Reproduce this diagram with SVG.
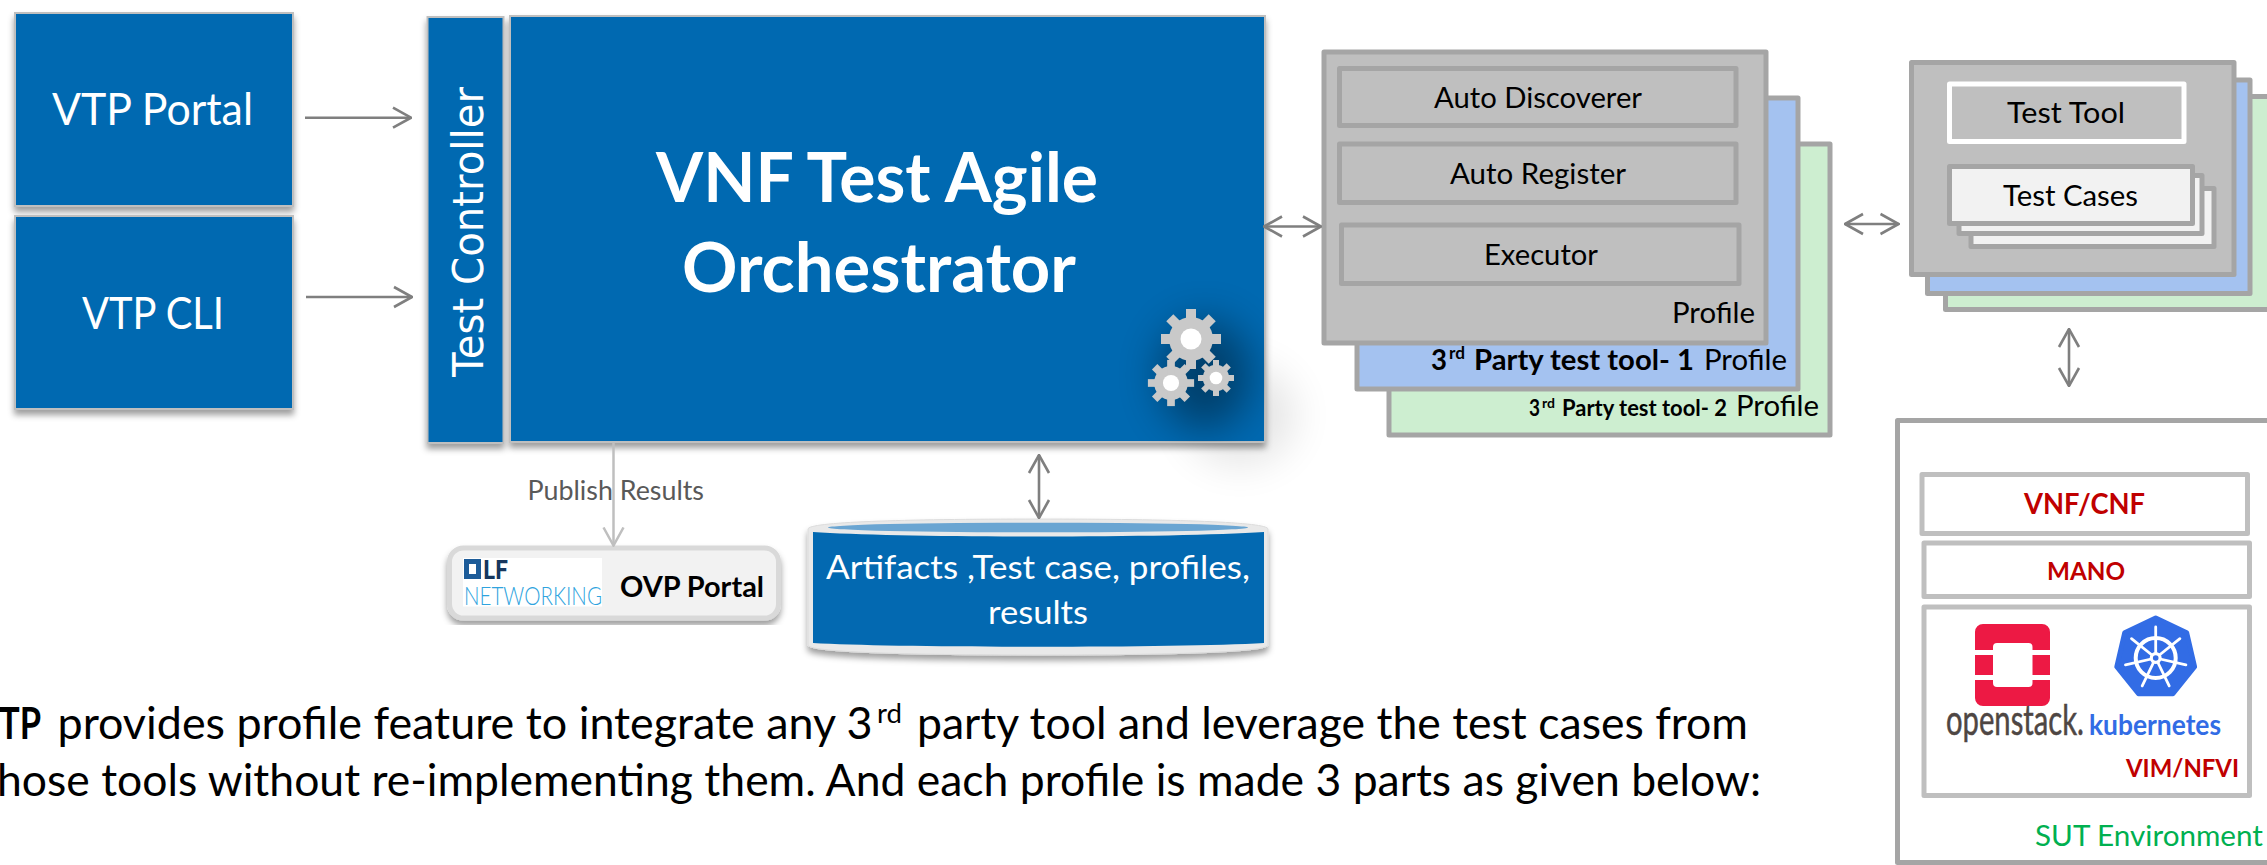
<svg xmlns="http://www.w3.org/2000/svg" width="2267" height="865" viewBox="0 0 2267 865">
<style>
text{font-family:Lato,"Liberation Sans",sans-serif;fill:#000}
.w{fill:#fff}
.b{font-weight:700}
.blue{fill:#0369b1;stroke:#bfbfbf;stroke-width:2}
.pg{fill:#bfbfbf;stroke:#a5a5a5;stroke-width:5;stroke-linejoin:round}
.pb{fill:#a4c2f0;stroke:#a5a5a5;stroke-width:5;stroke-linejoin:round}
.pn{fill:#cdeed0;stroke:#a5a5a5;stroke-width:5;stroke-linejoin:round}
.st{fill:#f2f2f2;stroke:#a5a5a5;stroke-width:5;stroke-linejoin:round}
.sut{fill:#fff;stroke:#bfbfbf;stroke-width:5;stroke-linejoin:round}
.red{fill:#c00000;font-weight:700}
.arr{fill:none;stroke:#7f7f7f;stroke-width:2.6}
.arl{fill:none;stroke:#bfbfbf;stroke-width:2.5}
</style>
<defs>
<filter id="sh" x="-10%" y="-10%" width="120%" height="120%"><feDropShadow dx="0" dy="5" stdDeviation="3" flood-color="#000" flood-opacity=".38"/></filter>
<filter id="bl" x="-80%" y="-80%" width="260%" height="260%"><feGaussianBlur stdDeviation="20"/></filter>
<clipPath id="mainclip"><rect x="510" y="16" width="755" height="426"/></clipPath>
<g id="gear">
<g fill="#c9c9c9">
<circle r="22"/>
<rect x="-5" y="-30" width="10" height="60"/>
<rect x="-5" y="-30" width="10" height="60" transform="rotate(45)"/>
<rect x="-5" y="-30" width="10" height="60" transform="rotate(90)"/>
<rect x="-5" y="-30" width="10" height="60" transform="rotate(135)"/>
</g>
<circle r="10.5" fill="#fff"/>
</g>
<marker id="open" viewBox="0 0 20 24" refX="19" refY="12" markerUnits="userSpaceOnUse" markerWidth="20" markerHeight="24" orient="auto-start-reverse"><path d="M1 2 L19 12 L1 22" fill="none" stroke="#7f7f7f" stroke-width="2.600"/></marker>
<marker id="openl" viewBox="0 0 20 24" refX="19" refY="12" markerUnits="userSpaceOnUse" markerWidth="20" markerHeight="24" orient="auto"><path d="M1 2 L19 12 L1 22" fill="none" stroke="#bfbfbf" stroke-width="2.500"/></marker>
</defs>

<g id="vtp-portal"><rect class="blue" x="15" y="13" width="278" height="193" filter="url(#sh)"/>
<text class="w" x="52" y="125" font-size="45" textLength="201" lengthAdjust="spacingAndGlyphs">VTP Portal</text></g>
<g id="vtp-cli"><rect class="blue" x="15" y="216" width="278" height="193" filter="url(#sh)"/>
<text class="w" x="82" y="329" font-size="45" textLength="142" lengthAdjust="spacingAndGlyphs">VTP CLI</text></g>
<g id="test-controller"><rect class="blue" x="427.500" y="17" width="76" height="426" filter="url(#sh)"/>
<text class="w" transform="translate(482.500 377) rotate(-90)" font-size="43" textLength="290" lengthAdjust="spacingAndGlyphs" style="font-family:'DejaVu Sans',sans-serif">Test Controller</text></g>
<ellipse cx="1240" cy="415" rx="55" ry="50" fill="#000" opacity=".1" filter="url(#bl)"/>
<g id="orchestrator"><rect class="blue" x="510" y="16" width="755" height="426" filter="url(#sh)"/>
<g clip-path="url(#mainclip)"><ellipse cx="1205" cy="375" rx="46" ry="55" fill="#000" opacity=".38" filter="url(#bl)"/></g>
<text class="w b" x="656" y="202" font-size="68" textLength="442" lengthAdjust="spacingAndGlyphs">VNF Test Agile</text>
<text class="w b" x="682" y="292" font-size="68" textLength="394" lengthAdjust="spacingAndGlyphs">Orchestrator</text>
<use href="#gear" transform="translate(1191 339)"/>
<use href="#gear" transform="translate(1171 383) scale(.77)"/>
<use href="#gear" transform="translate(1216 378) scale(.6)"/></g>

<g id="profile-2"><rect class="pn" x="1389" y="144" width="441" height="291"/>
<text class="b" x="1529" y="416" font-size="23" textLength="11" lengthAdjust="spacingAndGlyphs">3</text>
<text class="b" x="1542" y="408" font-size="14" textLength="13" lengthAdjust="spacingAndGlyphs">rd</text>
<text class="b" x="1562" y="416" font-size="23" textLength="165" lengthAdjust="spacingAndGlyphs">Party test tool- 2</text>
<text x="1736" y="416" font-size="29" textLength="83" lengthAdjust="spacingAndGlyphs">Profile</text></g>
<g id="profile-1"><rect class="pb" x="1357" y="98" width="441" height="291"/>
<text class="b" x="1431" y="370" font-size="29" textLength="16" lengthAdjust="spacingAndGlyphs">3</text>
<text class="b" x="1449" y="359" font-size="17" textLength="16" lengthAdjust="spacingAndGlyphs">rd</text>
<text class="b" x="1474" y="370" font-size="29" textLength="220" lengthAdjust="spacingAndGlyphs">Party test tool- 1</text>
<text x="1704" y="370" font-size="29" textLength="83" lengthAdjust="spacingAndGlyphs">Profile</text></g>
<g id="profile"><rect class="pg" x="1324" y="52" width="442" height="291"/>
<text x="1672" y="323" font-size="29" textLength="83" lengthAdjust="spacingAndGlyphs">Profile</text></g>
<g id="auto-discoverer"><rect class="pg" x="1339.500" y="68.500" width="396.500" height="57"/>
<text x="1434" y="108" font-size="29" textLength="208" lengthAdjust="spacingAndGlyphs">Auto Discoverer</text></g>
<g id="auto-register"><rect class="pg" x="1339.500" y="144" width="396.500" height="58.500"/>
<text x="1450" y="184" font-size="29" textLength="176" lengthAdjust="spacingAndGlyphs">Auto Register</text></g>
<g id="executor"><rect class="pg" x="1341.500" y="225" width="397.500" height="58.500"/>
<text x="1484" y="265" font-size="29" textLength="114" lengthAdjust="spacingAndGlyphs">Executor</text></g>

<g id="tool-3"><rect class="pn" x="1945.500" y="96.500" width="330" height="213"/></g>
<g id="tool-2"><rect class="pb" x="1927.500" y="80" width="322.500" height="213.500"/></g>
<g id="tool-1"><rect class="pg" x="1911.500" y="62.500" width="322.500" height="212"/></g>
<g id="test-tool"><rect x="1949.500" y="84" width="234.500" height="57.500" fill="#bfbfbf" stroke="#fff" stroke-width="5" stroke-linejoin="round"/>
<text x="2007" y="123" font-size="29" textLength="118" lengthAdjust="spacingAndGlyphs">Test Tool</text></g>
<g id="test-cases"><rect class="st" x="1971" y="188.500" width="243" height="58"/>
<rect class="st" x="1959" y="175.500" width="243" height="58"/>
<rect class="st" x="1949.500" y="166.500" width="243" height="57"/>
<text x="2003" y="206" font-size="29" textLength="135" lengthAdjust="spacingAndGlyphs">Test Cases</text></g>

<g id="sut"><rect x="1897.500" y="420.500" width="380" height="442" fill="#fff" stroke="#a5a5a5" stroke-width="5" stroke-linejoin="round"/>
<text x="2035" y="846" font-size="29" textLength="228" lengthAdjust="spacingAndGlyphs" style="fill:#00b050">SUT Environment</text></g>
<g id="vnf-cnf"><rect class="sut" x="1922" y="474.500" width="325.500" height="59"/>
<text class="red" x="2024" y="514" font-size="29" textLength="121" lengthAdjust="spacingAndGlyphs">VNF/CNF</text></g>
<g id="mano"><rect class="sut" x="1924" y="543" width="325.500" height="53.500"/>
<text class="red" x="2047" y="580" font-size="25" textLength="78" lengthAdjust="spacingAndGlyphs">MANO</text></g>
<g id="vim-nfvi"><rect class="sut" x="1924" y="607" width="325.500" height="188.500"/>
<path d="M1983 624H2042a8 8 0 0 1 8 8V650H2032.500V647a4 4 0 0 0-4-4H1997a4 4 0 0 0-4 4V650H1975V632a8 8 0 0 1 8-8ZM1975 655H1993V675H1975ZM2032.500 655H2050V675H2032.500ZM1975 680H1993V683a4 4 0 0 0 4 4H2028.500a4 4 0 0 0 4-4V680H2050V698a8 8 0 0 1-8 8H1983a8 8 0 0 1-8-8Z" fill="#ed1944"/>
<text x="1946" y="735" font-size="42" textLength="138" lengthAdjust="spacingAndGlyphs" style="fill:#4e4643;stroke:#4e4643;stroke-width:.5">openstack.</text>
<path d="M2155.700 618L2186.700 632.800L2194.600 666.800L2172.900 693.800L2138.500 693.800L2116.800 666.800L2124.700 632.800Z" fill="#326ce5" stroke="#326ce5" stroke-width="5" stroke-linejoin="round"/>
<circle cx="2155.700" cy="658" r="20" fill="none" stroke="#fff" stroke-width="4"/>
<path d="M2155.700 658V627M2155.700 658L2179.900 638.700M2155.700 658L2185.900 664.900M2155.700 658L2169.200 685.900M2155.700 658L2142.200 685.900M2155.700 658L2125.500 664.900M2155.700 658L2131.500 638.700" stroke="#fff" stroke-width="2.800" stroke-linecap="round" fill="none"/>
<circle cx="2155.700" cy="658" r="6" fill="#fff"/><circle cx="2155.700" cy="658" r="2.800" fill="#326ce5"/>
<text class="b" x="2089" y="735" font-size="29" textLength="132" lengthAdjust="spacingAndGlyphs" style="fill:#326ce5">kubernetes</text>
<text class="red" x="2126" y="777" font-size="25" textLength="113" lengthAdjust="spacingAndGlyphs">VIM/NFVI</text></g>

<g id="ovp-portal"><rect x="449.500" y="548" width="329" height="70" rx="14" fill="#f2f2f2" stroke="#d9d9d9" stroke-width="5" filter="url(#sh)"/>
<rect x="463" y="558" width="139" height="48.500" fill="#fff"/>
<path d="M464 559H481V579H464ZM469 564V574H476V564Z" fill="#1d5c99" fill-rule="evenodd"/>
<text x="483" y="578.500" font-size="27" font-weight="900" textLength="25" lengthAdjust="spacingAndGlyphs" style="fill:#17375e">LF</text>
<text x="464" y="604.500" font-size="26" font-weight="300" textLength="138" lengthAdjust="spacingAndGlyphs" style="fill:#2fa3de">NETWORKING</text>
<text class="b" x="620" y="597" font-size="28" textLength="144" lengthAdjust="spacingAndGlyphs">OVP Portal</text></g>

<g id="artifacts"><path d="M808 529C808 522 900 519 1038 519C1176 519 1268 522 1268 529V645C1268 652 1176 655 1038 655C900 655 808 652 808 645Z" fill="#e9e9e9" stroke="#dcdcdc" stroke-width="1" filter="url(#sh)"/>
<path d="M813 532C900 538 1176 538 1264 532V643C1176 648 900 648 813 643Z" fill="#0369b1"/>
<ellipse cx="1038" cy="527.500" rx="210" ry="4.800" fill="#6aa5d2"/>
<text class="w" x="826" y="579" font-size="33" textLength="424" lengthAdjust="spacingAndGlyphs">Artifacts ,Test case, profiles,</text>
<text class="w" x="988" y="624" font-size="33" textLength="100" lengthAdjust="spacingAndGlyphs">results</text></g>

<g id="connectors">
<path class="arr" d="M305 117.700H411" marker-end="url(#open)"/>
<path class="arr" d="M306 297H412" marker-end="url(#open)"/>
<path class="arr" d="M1264 226.500H1321" marker-start="url(#open)" marker-end="url(#open)"/>
<path class="arr" d="M1845 224H1898.500" marker-start="url(#open)" marker-end="url(#open)"/>
<path class="arr" d="M2069 329V386" marker-start="url(#open)" marker-end="url(#open)"/>
<path class="arr" d="M1039 455V518" marker-start="url(#open)" marker-end="url(#open)"/>
<path class="arl" d="M613.500 442V545.500" marker-end="url(#openl)"/>
<text x="527.500" y="500" font-size="27" textLength="176.500" lengthAdjust="spacingAndGlyphs" style="fill:#595959">Publish Results</text>
</g>

<g id="caption">
<text class="b" x="-1" y="739" font-size="44" textLength="42" lengthAdjust="spacingAndGlyphs">TP</text>
<text x="57.500" y="739" font-size="44" textLength="815" lengthAdjust="spacingAndGlyphs">provides profile feature to integrate any 3</text>
<text x="877" y="723" font-size="26" textLength="25" lengthAdjust="spacingAndGlyphs">rd</text>
<text x="917" y="739" font-size="44" textLength="831" lengthAdjust="spacingAndGlyphs">party tool and leverage the test cases from</text>
<text x="-3" y="796" font-size="44" textLength="1764" lengthAdjust="spacingAndGlyphs">hose tools without re-implementing them. And each profile is made 3 parts as given below:</text>
</g>
</svg>
